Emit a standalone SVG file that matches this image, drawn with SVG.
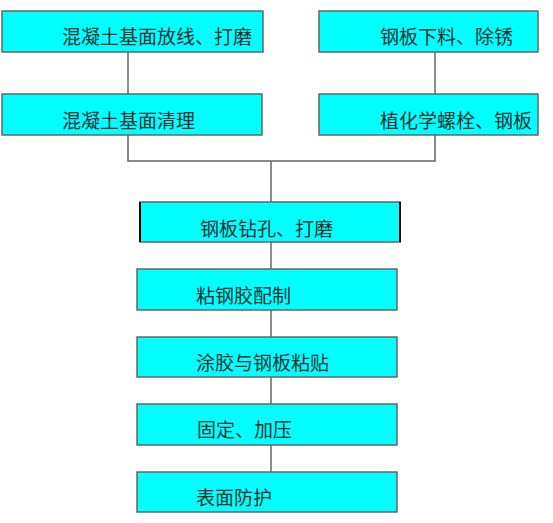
<svg xmlns="http://www.w3.org/2000/svg" width="553" height="523" viewBox="0 0 553 523">
<style>
.box{fill:#00FFFF;stroke:#666;stroke-width:1.5}
.lbl{font-family:"Noto Sans CJK SC","Noto Sans",sans-serif;font-size:19px;fill:#123030}
.ln{stroke:#666;stroke-width:1.5;fill:none}
</style>
<rect width="553" height="523" fill="#fff"/>
<g id="connectors">
<line class="ln" x1="128" y1="52" x2="128" y2="94"/>
<line class="ln" x1="435" y1="52" x2="435" y2="94"/>
<polyline class="ln" points="128,135 128,161 435,161 435,135"/>
<line class="ln" x1="271" y1="161" x2="271" y2="202"/>
<line class="ln" x1="271" y1="242" x2="271" y2="269"/>
<line class="ln" x1="271" y1="310" x2="271" y2="337"/>
<line class="ln" x1="271" y1="377" x2="271" y2="404"/>
<line class="ln" x1="271" y1="445" x2="271" y2="472"/>
</g>
<g id="n1"><rect class="box" x="2" y="11" width="261" height="41"/><text class="lbl" x="62" y="44">混凝土基面放线、打磨</text></g>
<g id="n2"><rect class="box" x="2" y="94" width="260" height="41"/><text class="lbl" x="62" y="128">混凝土基面清理</text></g>
<g id="n3"><rect class="box" x="319" y="11" width="219" height="41"/><text class="lbl" x="380" y="44">钢板下料、除锈</text></g>
<g id="n4"><rect class="box" x="319" y="94" width="219" height="41"/><text class="lbl" x="380" y="128">植化学螺栓、钢板</text></g>
<g id="n5"><rect class="box" x="140" y="202" width="260" height="40"/><line x1="140" y1="202" x2="140" y2="242" stroke="#000" stroke-width="2"/><line x1="400" y1="202" x2="400" y2="242" stroke="#000" stroke-width="2"/><text class="lbl" x="200" y="236">钢板钻孔、打磨</text></g>
<g id="n6"><rect class="box" x="137" y="269" width="260" height="41"/><text class="lbl" x="196" y="303">粘钢胶配制</text></g>
<g id="n7"><rect class="box" x="137" y="337" width="260" height="40"/><text class="lbl" x="196" y="370">涂胶与钢板粘贴</text></g>
<g id="n8"><rect class="box" x="137" y="404" width="260" height="41"/><text class="lbl" x="197" y="437">固定、加压</text></g>
<g id="n9"><rect class="box" x="137" y="472" width="260" height="40"/><text class="lbl" x="196" y="505">表面防护</text></g>
</svg>
